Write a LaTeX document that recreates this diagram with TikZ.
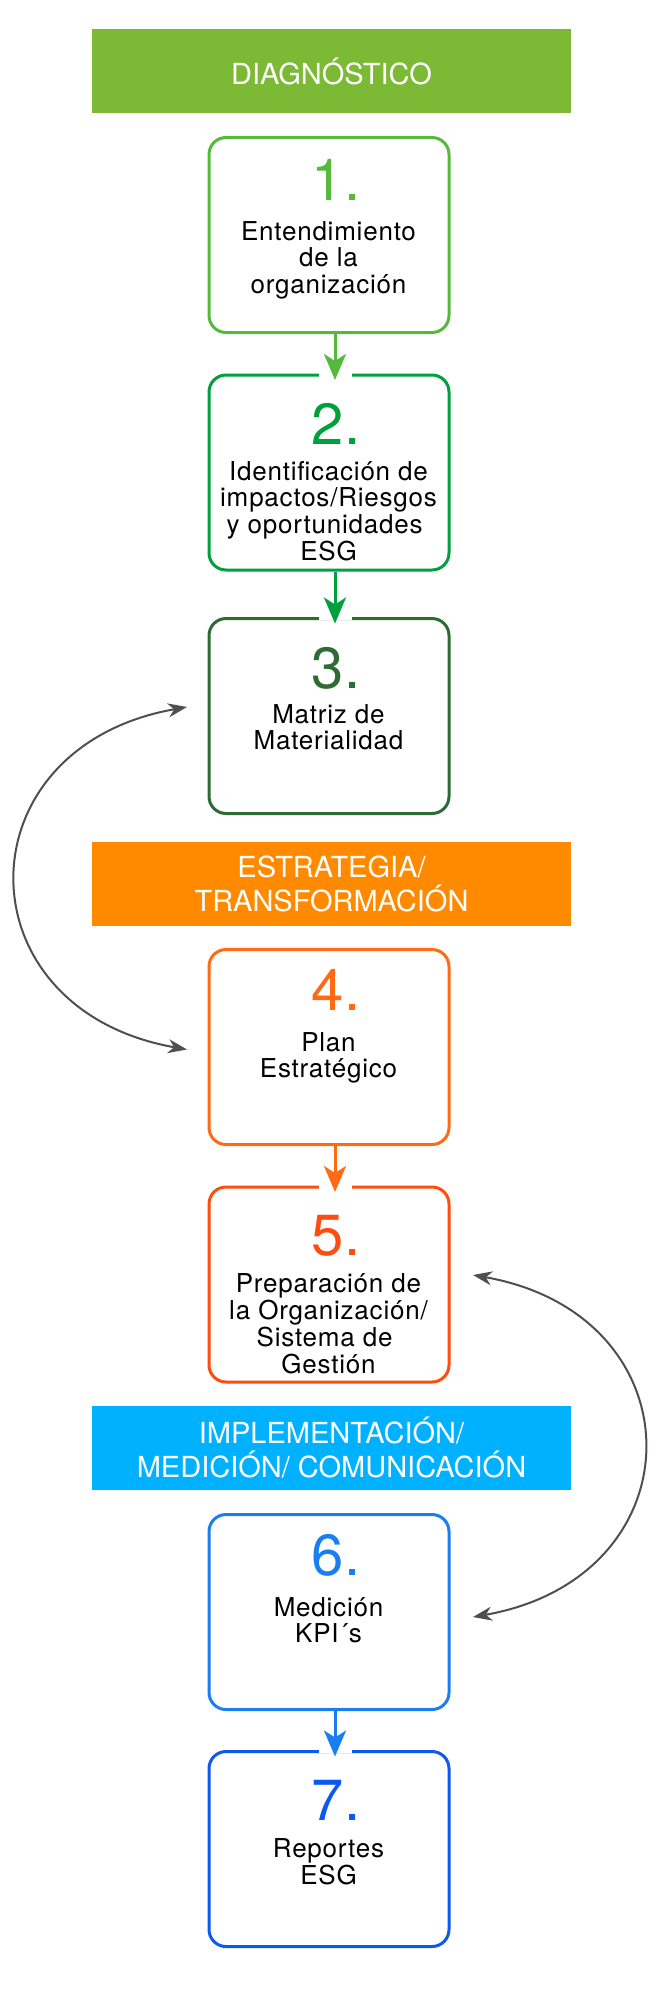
\documentclass[tikz,border=0pt]{standalone}
\usepackage{fontspec}
\setmainfont{TeX Gyre Heros}
\newfontfamily\stagefont[LetterSpace=3]{TeX Gyre Heros}
\usetikzlibrary{positioning, calc, arrows.meta}
\definecolor{diagGreen}{HTML}{7CBA35}
\definecolor{estrOrange}{HTML}{FF8A00}
\definecolor{implBlue}{HTML}{00B1FF}
\definecolor{stOne}{HTML}{56B93C}
\definecolor{stTwo}{HTML}{00A03E}
\definecolor{stThree}{HTML}{2E6B34}
\definecolor{stFour}{HTML}{FF6A13}
\definecolor{stFive}{HTML}{FF4D0D}
\definecolor{stSix}{HTML}{1A7EF2}
\definecolor{stSeven}{HTML}{0B58F2}
\definecolor{arcGray}{HTML}{4D4F54}
\newcommand{\stagelines}[1]{\begin{tabular}[t]{@{}c@{}}#1\end{tabular}}
\tikzset{stage/.style = {draw=#1, rounded corners=8.5pt, line width=1.5pt, minimum width=120pt, minimum height=97.5pt, inner sep=0pt},
         phase/.style = {fill=#1, text=white, minimum width=239.5pt, minimum height=42pt, inner sep=0pt, align=center, font=\fontsize{14.5}{17}\selectfont},
         num/.style = {text=#1, anchor=base, inner sep=0pt, font=\fontsize{29}{29}\selectfont},
         txt/.style = {anchor=base, inner sep=0pt, font=\stagefont\fontsize{13}{12.8}\selectfont},
         flow/.style = {draw=#1, line width=1.5pt, -{Stealth[length=13pt, width=11pt, inset=3.5pt]}},
         feedback/.style = {draw=arcGray, line width=1pt, {Stealth[length=9.5pt, width=7pt, inset=3pt]}-{Stealth[length=9.5pt, width=7pt, inset=3pt]}}}

\begin{document}
\begin{tikzpicture}[x=0.5pt, y=0.5pt]
    \useasboundingbox (0,0) rectangle (651,-1996);

    % fases
    \node [phase=diagGreen]  (p1) at (331.5,  -71.5) {DIAGNÓSTICO};
    \node [phase=estrOrange] (p2) at (331.5, -883.5) {ESTRATEGIA/\\TRANSFORMACIÓN};
    \node [phase=implBlue]   (p3) at (331.5,-1447.5) {IMPLEMENTACIÓN/\\MEDICIÓN/ COMUNICACIÓN};

    % etapas
    \node [stage=stOne]   (b1) at (329, -235)   {};
    \node [stage=stTwo]   (b2) at (329, -472.5) {};
    \node [stage=stThree] (b3) at (329, -716)   {};
    \node [stage=stFour]  (b4) at (329,-1047)   {};
    \node [stage=stFive]  (b5) at (329,-1284.5) {};
    \node [stage=stSix]   (b6) at (329,-1612)   {};
    \node [stage=stSeven] (b7) at (329,-1849)   {};

    \node [num=stOne]   (n1) at (336, -200) {1.};
    \node [num=stTwo]   (n2) at (336, -444) {2.};
    \node [num=stThree] (n3) at (336, -688) {3.};
    \node [num=stFour]  (n4) at (336,-1010) {4.};
    \node [num=stFive]  (n5) at (336,-1255) {5.};
    \node [num=stSix]   (n6) at (336,-1575) {6.};
    \node [num=stSeven] (n7) at (336,-1820) {7.};

    \node [txt] (t1) at (328.5, -240) {\stagelines{Entendimiento\\de la\\organización}};
    \node [txt] (t2) at (328.5, -480) {\stagelines{Identificación de\\impactos/Riesgos\\y oportunidades\hspace*{0.3em}\\ESG}};
    \node [txt] (t3) at (328.5, -723) {\stagelines{Matriz de\\Materialidad}};
    \node [txt] (t4) at (328.5,-1051) {\stagelines{Plan\\Estratégico}};
    \node [txt] (t5) at (328.5,-1292) {\stagelines{Preparación de\\la Organización/\\Sistema de\hspace*{0.3em}\\Gestión}};
    \node [txt] (t6) at (328.5,-1616) {\stagelines{Medición\\KPI´s}};
    \node [txt] (t7) at (328.5,-1857) {\stagelines{Reportes\\ESG}};

    % huecos en el borde
    \fill [white] ($(b2.north)+(-10,3)$) rectangle ($(b2.north)+(23,-3)$);
    \fill [white] ($(b3.north)+(-10,3)$) rectangle ($(b3.north)+(23,-3)$);
    \fill [white] ($(b5.north)+(-10,3)$) rectangle ($(b5.north)+(23,-3)$);
    \fill [white] ($(b7.north)+(-10,3)$) rectangle ($(b7.north)+(23,-3)$);

    \draw [flow=stOne]  ($(b1.south)+(6,0)$) -- ($(b2.north)+(6,-6.5)$);
    \draw [flow=stTwo]  ($(b2.south)+(6,0)$) -- ($(b3.north)+(6,-6.5)$);
    \draw [flow=stFour] ($(b4.south)+(6,0)$) -- ($(b5.north)+(6,-6.5)$);
    \draw [flow=stSix]  ($(b6.south)+(6,0)$) -- ($(b7.north)+(6,-6.5)$);

    \draw [feedback] ($(b3.west)+(-20.5,9)$) to[out=190, in=170, looseness=1.73] ($(b4.west)+(-20.5,-2.5)$);
    \draw [feedback] ($(b5.east)+(22.5,9.5)$) to[out=-10, in=10, looseness=1.73] ($(b6.east)+(22.5,-5)$);
\end{tikzpicture}
\end{document}
